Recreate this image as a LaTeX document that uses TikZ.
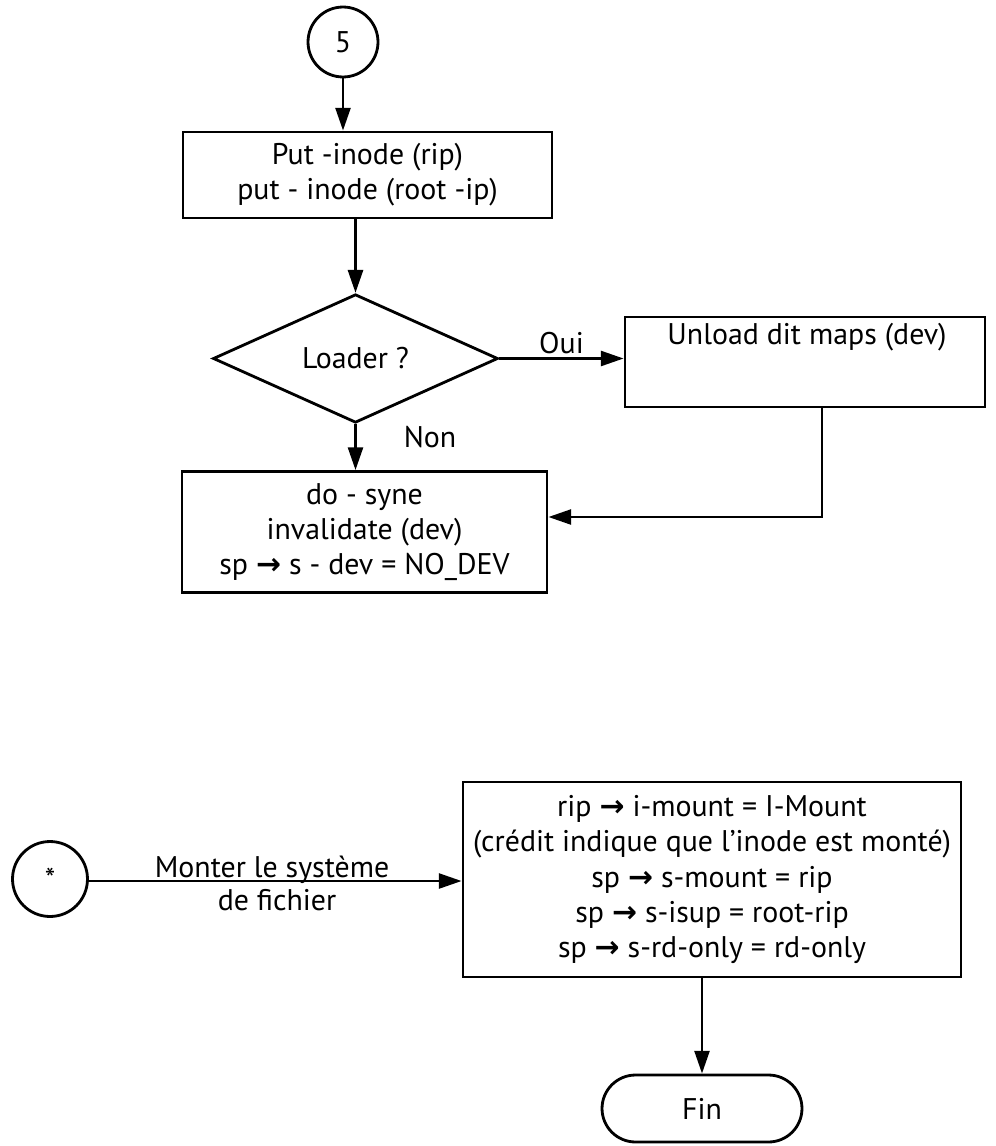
\documentclass[tikz,border=0pt]{standalone}
\usepackage{fontspec}
\setmainfont{PT Sans}
\newfontfamily\symfont{DejaVu Sans}
\usetikzlibrary{arrows.meta,shapes.geometric,shapes.misc}
\newcommand{\ar}{{\symfont\bfseries →}}
\begin{document}
\begin{tikzpicture}[x=0.02cm,y=-0.02cm,
  line width=1.6pt,
  font=\fontsize{17}{20}\selectfont,
  box/.style={draw,rectangle,align=center,inner sep=0pt},
  conn/.style={draw,circle,inner sep=0pt},
  decision/.style={draw,diamond,inner sep=0pt},
  terminal/.style={draw,rounded rectangle,inner sep=0pt},
  arr/.style={-{Triangle[length=13pt,width=8.5pt]}},
  lbl/.style={inner sep=1pt}]
\useasboundingbox (0,0) rectangle (995,1146);

% upper part
\node[conn,minimum size=1.4cm] (c5) at (343,42) {5};
\node[box,minimum width=7.38cm,minimum height=1.72cm] (b1) at (367.5,175)
  {Put -inode (rip)\\put - inode (root -ip)};
\node[decision,minimum width=5.7cm,minimum height=1.94cm] (d) at (355.5,358.5) {Loader ?};
\node[box,minimum width=7.2cm,minimum height=1.8cm] (u) at (805,362) {};
\node[lbl] (ut) at (807,337) {Unload dit maps (dev)};
\node[box,minimum width=7.3cm,minimum height=2.42cm] (b3) at (364.5,532)
  {do - syne\\invalidate (dev)\\sp \ar{}  s - dev = NO\_DEV};

\draw[arr] (c5) -- (c5 |- b1.north);
\draw[arr] (d.north |- b1.south) -- (d.north);
\draw[arr] (d.east) -- node[lbl,above=1pt] (oui) {Oui} (d.east -| u.west);
\draw[arr] (d.south) -- (d.south |- b3.north);
\node[lbl] (non) at (430,437) {Non};
\draw[arr] ([xshift=0.34cm]u.south) |- ([yshift=0.3cm]b3.east);

% lower part
\node[conn,minimum size=1.5cm] (cs) at (50,879) {*};
\node[box,minimum width=9.96cm,minimum height=3.9cm] (b4) at (712,879.5)
  {rip \ar{}  i-mount = I-Mount\\(crédit indique que l'inode est monté)\\sp \ar{}  s-mount = rip\\sp \ar{}  s-isup = root-rip\\sp \ar{}  s-rd-only = rd-only};
\node[terminal,minimum width=4cm,minimum height=1.34cm] (fin) at (702,1108.5) {Fin};

\draw[arr] ([yshift=-0.04cm]cs.east) -- ([yshift=-0.04cm]cs.east -| b4.west);
\node[lbl,anchor=base] (m1) at (272,877) {Monter le système};
\node[lbl] (m2) at (277,900) {de fichier};
\draw[arr] (fin.north |- b4.south) -- (fin.north);
\end{tikzpicture}
\end{document}
